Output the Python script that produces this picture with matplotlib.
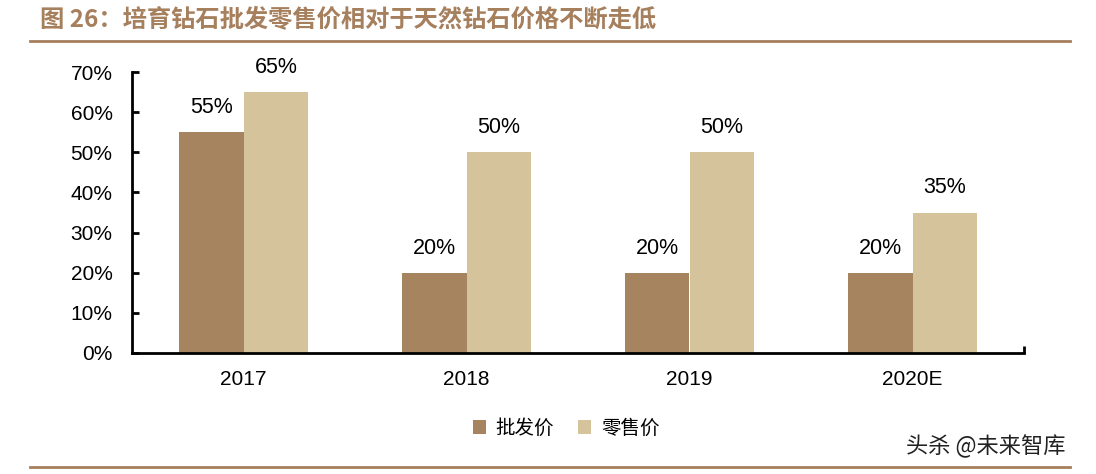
import numpy as np
import matplotlib.pyplot as plt

plt.rcParams['font.family'] = ['Liberation Sans', 'Noto Sans CJK SC', 'DejaVu Sans']

years = ["2017", "2018", "2019", "2020E"]
wholesale = [55, 20, 20, 20]
retail = [65, 50, 50, 35]
names = ["批发价", "零售价"]
c1 = "#A5845F"
c2 = "#D4C39B"

fig = plt.figure(figsize=(10.96, 4.74), dpi=100)
W, H = 1096, 474
ax = fig.add_axes([132/W, 1-353/H, (1024-132)/W, (353-72)/H])

x = np.arange(len(years))
w = 0.29
b1 = ax.bar(x - w/2, wholesale, w, color=c1, label=names[0])
b2 = ax.bar(x + w/2, retail, w, color=c2, label=names[1])
for bars, vals in ((b1, wholesale), (b2, retail)):
    for r, v in zip(bars, vals):
        ax.text(r.get_x() + r.get_width()/2, v + 3.5, f"{v}%", ha="center",
                va="bottom", fontsize=15.5)

ax.set_xlim(-0.5, 3.5)
ax.set_ylim(0, 70)
ax.set_yticks(range(0, 71, 10))
ax.set_yticklabels([f"{t}%" for t in range(0, 71, 10)], fontsize=15)
ax.set_xticks(x)
ax.set_xticklabels(years, fontsize=15)
ax.set_xticks([3.5], minor=True)
ax.tick_params(axis="y", direction="in", length=5, width=2, pad=14)
ax.tick_params(axis="x", which="major", length=0, pad=12)
ax.tick_params(axis="x", which="minor", direction="in", length=5, width=2)
for s in ("top", "right"):
    ax.spines[s].set_visible(False)
ax.spines["left"].set_linewidth(2)
ax.spines["bottom"].set_linewidth(2)

leg = fig.legend(handles=[b1, b2], loc="center", bbox_to_anchor=(566/W, 1-428/H),
                 ncol=2, frameon=False, fontsize=14, handlelength=0.7,
                 handleheight=0.7, columnspacing=1.2, handletextpad=0.5)
for t in leg.get_texts():
    t.set_family(['Noto Sans CJK SC'])

brown = "#A67F5D"
fig.text(40/W, 1-19/H, "图 26：培育钻石批发零售价相对于天然钻石价格不断走低",
         fontsize=17.5, fontweight="bold", color=brown, va="center",
         family=['Noto Sans CJK SC'])
fig.add_artist(plt.Line2D([30/W, 1070/W], [1-41/H, 1-41/H], color=brown, lw=2))
fig.add_artist(plt.Line2D([30/W, 1070/W], [1-467/H, 1-467/H], color=brown, lw=2))
fig.text(1065/W, 1-446/H, "头杀 @未来智库", fontsize=16, color="#222222",
         ha="right", va="center", family=['Noto Sans CJK SC'])

fig.savefig("out.png", dpi=100)
